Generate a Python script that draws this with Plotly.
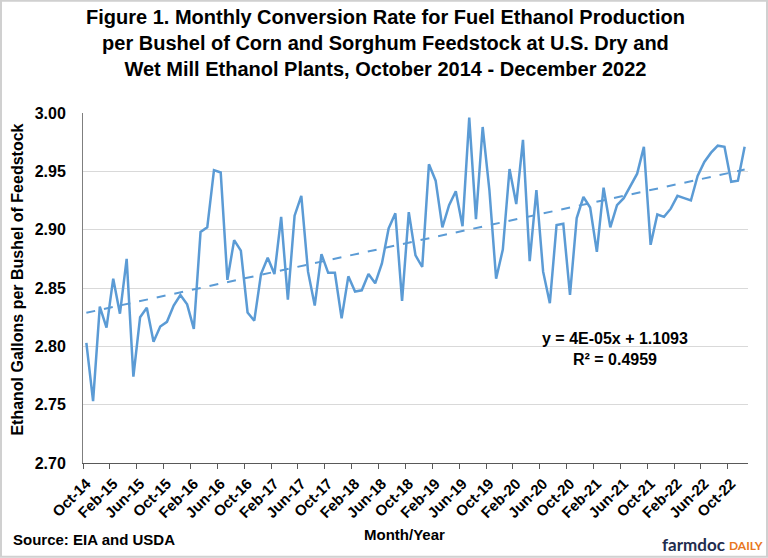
import numpy as np
import plotly.graph_objects as go

# monthly conversion rate, Oct 2014 - Dec 2022 (gallons per bushel)
start_year, start_month = 2014, 10
month_names = ["Jan", "Feb", "Mar", "Apr", "May", "Jun",
               "Jul", "Aug", "Sep", "Oct", "Nov", "Dec"]

rate = [
    2.803, 2.753, 2.834,                                                    # 2014
    2.816, 2.858, 2.828, 2.875, 2.774, 2.825, 2.833, 2.804, 2.817, 2.821, 2.835, 2.844,  # 2015
    2.836, 2.815, 2.898, 2.902, 2.951, 2.949, 2.857, 2.891, 2.882, 2.829, 2.822, 2.862,  # 2016
    2.876, 2.862, 2.911, 2.840, 2.912, 2.929, 2.864, 2.835, 2.879, 2.863, 2.863, 2.824,  # 2017
    2.860, 2.847, 2.848, 2.862, 2.854, 2.871, 2.901, 2.914, 2.839, 2.915, 2.878, 2.868,  # 2018
    2.956, 2.942, 2.902, 2.921, 2.933, 2.903, 2.996, 2.909, 2.988, 2.934, 2.858, 2.883,  # 2019
    2.952, 2.922, 2.977, 2.873, 2.934, 2.864, 2.837, 2.904, 2.905, 2.844, 2.910, 2.928,  # 2020
    2.919, 2.881, 2.936, 2.902, 2.921, 2.927, 2.937, 2.948, 2.971, 2.887, 2.913, 2.911,  # 2021
    2.918, 2.929, 2.927, 2.925, 2.946, 2.958, 2.966, 2.972, 2.971, 2.941, 2.942, 2.971,  # 2022
]

labels = []
for i in range(len(rate)):
    m = (start_month - 1 + i) % 12
    y = start_year + (start_month - 1 + i) // 12
    labels.append(f"{month_names[m]}-{y % 100:02d}")

x = np.arange(len(rate))

# linear trend
slope, intercept = np.polyfit(x, rate, 1)
trend = slope * x + intercept

blue = "#5B9BD5"
font = "Liberation Sans, Arial, sans-serif"

fig = go.Figure()

fig.add_trace(go.Scatter(x=x, y=rate, mode="lines",
                         line=dict(color=blue, width=2.5), showlegend=False))
fig.add_trace(go.Scatter(x=x, y=trend, mode="lines",
                         line=dict(color=blue, width=2, dash="dash"), showlegend=False))

fig.update_layout(
    width=768, height=558,
    margin=dict(l=83, r=20, t=113, b=95),
    paper_bgcolor="white", plot_bgcolor="white",
    font=dict(family=font, color="black"),
)

fig.update_xaxes(
    range=[-0.5, len(rate) - 0.5],
    tickvals=x[::4], ticktext=[f"<b>{t}</b>" for t in labels[::4]],
    tickangle=-45, ticks="", ticklabelstandoff=5,
    tickfont=dict(size=15, family=font, color="black"),
    minor=dict(tickvals=np.arange(-0.5, len(rate), 4), ticks="outside",
               ticklen=5, tickcolor="#595959", tickwidth=1),
    showgrid=False, showline=True, linecolor="#595959", linewidth=1,
    zeroline=False,
)

fig.update_yaxes(
    range=[2.70, 3.00], dtick=0.05, tickformat=".2f",
    tickprefix="<b>", ticksuffix="</b>",
    tickfont=dict(size=16, family=font, color="black"),
    showgrid=True, gridcolor="#D9D9D9", gridwidth=1,
    showline=True, linecolor="#7F7F7F", linewidth=1,
    ticks="", ticklabelstandoff=13, zeroline=False,
)

# title, axis titles, notes and logo
fig.add_annotation(
    text="<b>Figure 1. Monthly Conversion Rate for Fuel Ethanol Production<br>"
         "per Bushel of Corn and Sorghum Feedstock at U.S. Dry and<br>"
         "Wet Mill Ethanol Plants, October 2014 - December 2022</b>",
    xref="paper", yref="paper", x=(385 - 83) / 665, xanchor="center",
    y=(463.3 - 4) / 350, yanchor="top", showarrow=False,
    font=dict(size=20, family=font, color="black"))
fig.add_annotation(text="<b>Ethanol Gallons per Bushel of Feedstock</b>",
                   xref="paper", yref="paper", x=(18 - 83) / 665, xanchor="center",
                   y=0.524, yanchor="middle", textangle=-90, showarrow=False,
                   font=dict(size=16, family=font, color="black"))
fig.add_annotation(text="<b>Month/Year</b>", xref="paper", yref="paper",
                   x=(404 - 83) / 665, xanchor="center",
                   y=(463.3 - 535) / 350, yanchor="middle", showarrow=False,
                   font=dict(size=15, family=font, color="black"))
fig.add_annotation(text="<b>Source: EIA and USDA</b>", xref="paper", yref="paper",
                   x=(11 - 83) / 665, xanchor="left",
                   y=(463.3 - 540) / 350, yanchor="middle", showarrow=False,
                   font=dict(size=15, family=font, color="black"))
fig.add_annotation(text="<b>y = 4E-05x + 1.1093<br>R² = 0.4959</b>",
                   xref="paper", yref="paper", x=(615 - 83) / 665, xanchor="center",
                   y=(463.3 - 349) / 350, yanchor="middle", showarrow=False,
                   font=dict(size=16, family=font, color="black"))
fig.add_annotation(text="<b>farmdoc</b>", xref="paper", yref="paper",
                   x=(727 - 83) / 665, xanchor="right",
                   y=(463.3 - 557) / 350, yanchor="bottom", showarrow=False,
                   font=dict(size=17, family="Lato, sans-serif", color="#1F2D4F"))
fig.add_annotation(text="<b>DAILY</b>", xref="paper", yref="paper",
                   x=(765 - 83) / 665, xanchor="right",
                   y=(463.3 - 555) / 350, yanchor="bottom", showarrow=False,
                   font=dict(size=12, family="Lato, sans-serif", color="#E87722"))

# light frame around the whole picture
fig.add_shape(type="rect", xref="paper", yref="paper",
              x0=(1 - 83) / 665, x1=(767 - 83) / 665,
              y0=(463.3 - 557) / 350, y1=(463.3 - 1) / 350,
              line=dict(color="#D0D0D0", width=2), layer="below")

fig.write_html("out.html", config={"displayModeBar": False},
               post_script="document.body.style.margin='0';")
